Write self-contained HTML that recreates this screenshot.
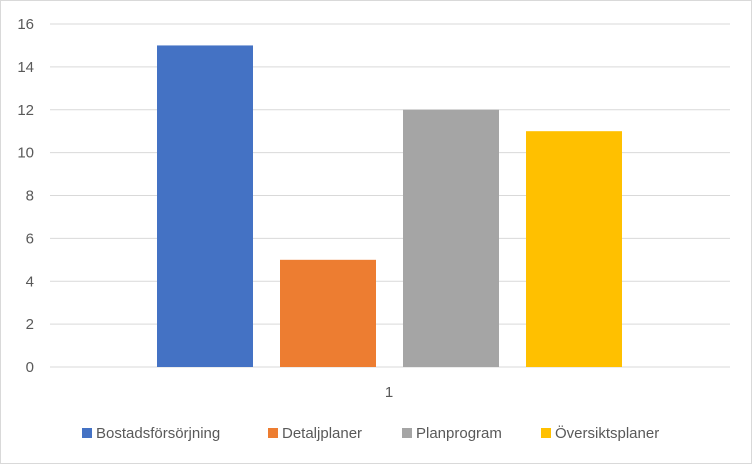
<!DOCTYPE html>
<html><head><meta charset="utf-8"><style>
body{margin:0;background:#fff;}
svg{display:block;font-family:"Liberation Sans",sans-serif;}
</style></head><body>
<svg id="chart" width="752" height="464">
<rect x="0.5" y="0.5" width="751" height="463" fill="#fff" stroke="#d9d9d9"/>
<g id="grid"></g><g id="bars"></g><g id="legend"></g>
<text x="389" y="397" font-size="15" fill="#595959" text-anchor="middle">1</text>
</svg>
<script>
const categories=["Bostadsförsörjning","Detaljplaner","Planprogram","Översiktsplaner"];
const values=[15,5,12,11];
const colors=["#4472c4","#ed7d31","#a5a5a5","#ffc000"];
const ticks=[0,2,4,6,8,10,12,14,16];
const ns="http://www.w3.org/2000/svg";
const y0=367,y1=24,vmax=16,left=50,right=730;
function y(v){return y0-(v/vmax)*(y0-y1);}
function mk(t,a,p){const e=document.createElementNS(ns,t);for(const k in a)e.setAttribute(k,a[k]);p.appendChild(e);return e;}
const g=document.getElementById('grid');
ticks.forEach(t=>{
  const l=mk('line',{x1:left,x2:right,y1:y(t),y2:y(t),stroke:'#d9d9d9','stroke-width':1},g);
  
  
  const tx=mk('text',{x:34,y:y(t)+5,'font-size':15,fill:'#595959','text-anchor':'end'},g);
  tx.textContent=t;
  
  
});
const b=document.getElementById('bars');
const bw=96,gap=123,start=157;
values.forEach((v,i)=>{
  const r=mk('rect',{x:start+i*gap,y:y(v),width:bw,height:y0-y(v),fill:colors[i]},b);
  
  
});
const lg=document.getElementById('legend');
const lx=[82,268,402,541];
categories.forEach((c,i)=>{
  const r=mk('rect',{x:lx[i],y:428,width:10,height:10,fill:colors[i]},lg);
  
  
  const t=mk('text',{x:lx[i]+14,y:438,'font-size':15,fill:'#595959'},lg);
  t.textContent=c;
  
  
});
</script>
</body></html>
